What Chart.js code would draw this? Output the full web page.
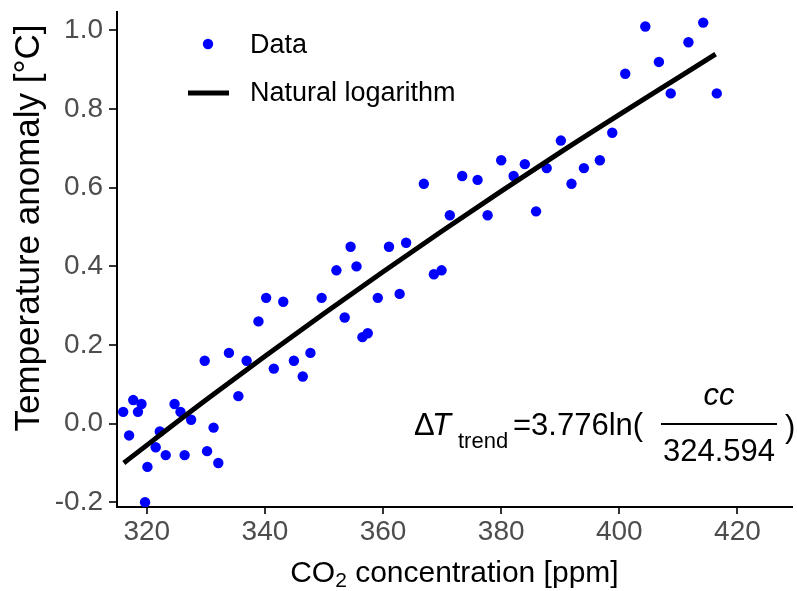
<!DOCTYPE html>
<html>
<head>
<meta charset="utf-8">
<script src="https://cdn.jsdelivr.net/npm/chart.js@4.4.1/dist/chart.umd.min.js"></script>
<style>
html, body { margin: 0; padding: 0; background: #fff; }
</style>
</head>
<body>
<canvas id="grafiek" width="797" height="591"></canvas>
<script>
// CO2 (ppm) en temperatuuranomalie (°C)
const co2 = [316.0, 317.0, 317.7, 318.5, 319.1, 319.7, 320.1, 321.5, 322.2, 323.2,
  324.7, 325.7, 326.4, 327.5, 329.8, 330.2, 331.3, 332.1, 333.9, 335.5,
  336.9, 338.9, 340.2, 341.5, 343.1, 344.9, 346.4, 347.7, 349.6, 352.1,
  353.5, 354.5, 355.5, 356.5, 357.4, 359.1, 361.0, 362.8, 363.9, 366.9,
  368.6, 369.9, 371.3, 373.4, 376.0, 377.7, 380.0, 382.1, 384.0, 385.9,
  387.7, 390.1, 391.9, 394.0, 396.7, 398.8, 401.0, 404.4, 406.7, 408.7,
  411.7, 414.2, 416.5];
const anomalie = [0.03, -0.03, 0.06, 0.03, 0.05, -0.20, -0.11, -0.06, -0.02, -0.08,
  0.05, 0.03, -0.08, 0.01, 0.16, -0.07, -0.01, -0.10, 0.18, 0.07,
  0.16, 0.26, 0.32, 0.14, 0.31, 0.16, 0.12, 0.18, 0.32, 0.39,
  0.27, 0.45, 0.40, 0.22, 0.23, 0.32, 0.45, 0.33, 0.46, 0.61,
  0.38, 0.39, 0.53, 0.63, 0.62, 0.53, 0.67, 0.63, 0.66, 0.54,
  0.65, 0.72, 0.61, 0.65, 0.67, 0.74, 0.89, 1.01, 0.92, 0.84,
  0.97, 1.02, 0.84];

const lijnCo2 = [316.1, 330, 350, 370, 390, 416.3];
const lijnTemp = [-0.10, 0.06, 0.28, 0.49, 0.69, 0.94];

const xTicks = [320, 340, 360, 380, 400, 420];
const yTicks = [-0.2, 0.0, 0.2, 0.4, 0.6, 0.8, 1.0];

const FONT = "'Liberation Sans', Arial, sans-serif";

// legenda binnen de grafiek
const legendaPlugin = {
  id: 'legenda',
  afterDraw(chart) {
    const ctx = chart.ctx;
    const ds = chart.data.datasets;
    ctx.save();
    ctx.font = '27px ' + FONT;
    ctx.textBaseline = 'middle';
    ctx.beginPath();
    ctx.arc(208, 44, 5.2, 0, Math.PI * 2);
    ctx.fillStyle = '#0000ff';
    ctx.fill();
    ctx.fillStyle = '#000';
    ctx.fillText(ds[1].label, 250, 46);
    ctx.beginPath();
    ctx.moveTo(188, 93);
    ctx.lineTo(229, 93);
    ctx.lineWidth = 5;
    ctx.strokeStyle = '#000';
    ctx.stroke();
    ctx.fillText(ds[0].label, 250, 94);
    ctx.restore();
  }
};

// formule en as-titels
const tekstPlugin = {
  id: 'tekst',
  afterDraw(chart) {
    const ctx = chart.ctx;
    ctx.save();
    ctx.fillStyle = '#000';
    ctx.textBaseline = 'alphabetic';

    ctx.font = '31px ' + FONT;
    ctx.fillText('\u0394', 414, 435);
    ctx.font = 'italic 31px ' + FONT;
    ctx.fillText('T', 432, 435);
    ctx.font = '22px ' + FONT;
    ctx.fillText('trend', 458, 448);
    ctx.font = '31px ' + FONT;
    ctx.fillText('=3.776ln(', 513, 435);
    ctx.textAlign = 'center';
    ctx.font = 'italic 31px ' + FONT;
    ctx.fillText('cc', 719, 405);
    ctx.font = '31px ' + FONT;
    ctx.fillText('324.594', 719, 461);
    ctx.textAlign = 'left';
    ctx.fillText(')', 785, 437);
    ctx.beginPath();
    ctx.moveTo(661, 424);
    ctx.lineTo(777, 424);
    ctx.lineWidth = 2;
    ctx.strokeStyle = '#000';
    ctx.stroke();

    // x-as titel met subscript
    const deel1 = 'CO', deel2 = '2', deel3 = ' concentration [ppm]';
    ctx.font = '30px ' + FONT;
    const w1 = ctx.measureText(deel1).width;
    const w3 = ctx.measureText(deel3).width;
    ctx.font = '21px ' + FONT;
    const w2 = ctx.measureText(deel2).width;
    const midden = (chart.chartArea.left + chart.chartArea.right) / 2;
    let x = midden - (w1 + w2 + w3) / 2;
    ctx.font = '30px ' + FONT;
    ctx.fillText(deel1, x, 582);
    x += w1;
    ctx.font = '21px ' + FONT;
    ctx.fillText(deel2, x, 587);
    x += w2;
    ctx.font = '30px ' + FONT;
    ctx.fillText(deel3, x, 582);

    // y-as titel
    ctx.translate(39, 228);
    ctx.rotate(-Math.PI / 2);
    ctx.textAlign = 'center';
    ctx.font = '35px ' + FONT;
    ctx.fillText('Temperature anomaly [°C]', 0, 0);
    ctx.restore();
  }
};

new Chart(document.getElementById('grafiek'), {
  type: 'scatter',
  data: {
    datasets: [
      {
        type: 'line',
        label: 'Natural logarithm',
        data: lijnCo2.map((c, i) => ({ x: c, y: lijnTemp[i] })),
        borderColor: '#000',
        borderWidth: 5,
        pointRadius: 0,
        fill: false,
        cubicInterpolationMode: 'monotone',
        order: 0
      },
      {
        label: 'Data',
        data: co2.map((c, i) => ({ x: c, y: anomalie[i] })),
        backgroundColor: '#0000ff',
        borderWidth: 0,
        pointRadius: 5.2,
        order: 1
      }
    ]
  },
  options: {
    responsive: false,
    animation: false,
    layout: { padding: { top: 12, right: 1, left: 0, bottom: 0 } },
    plugins: { legend: { display: false }, tooltip: { enabled: false } },
    scales: {
      x: {
        type: 'linear',
        min: 314.95,
        max: 429.2,
        afterBuildTicks: s => { s.ticks = xTicks.map(v => ({ value: v })); },
        afterFit: s => { s.height = 84; s.paddingLeft = 0; s.paddingRight = 0; },
        ticks: {
          font: { family: FONT, size: 28 },
          color: '#4d4d4d',
          padding: 1,
          maxRotation: 0,
          autoSkip: false
        },
        grid: { drawOnChartArea: false, tickLength: 7, color: '#333', lineWidth: 2 },
        border: { color: '#000', width: 2 }
      },
      y: {
        min: -0.212,
        max: 1.047,
        afterBuildTicks: s => { s.ticks = yTicks.map(v => ({ value: v })); },
        afterFit: s => { s.width = 117; s.paddingTop = 0; s.paddingBottom = 0; },
        ticks: {
          font: { family: FONT, size: 28 },
          color: '#4d4d4d',
          padding: 6,
          autoSkip: false,
          callback: v => v.toFixed(1)
        },
        grid: { drawOnChartArea: false, tickLength: 8, color: '#333', lineWidth: 2 },
        border: { color: '#000', width: 2 }
      }
    }
  },
  plugins: [legendaPlugin, tekstPlugin]
});
</script>
</body>
</html>
